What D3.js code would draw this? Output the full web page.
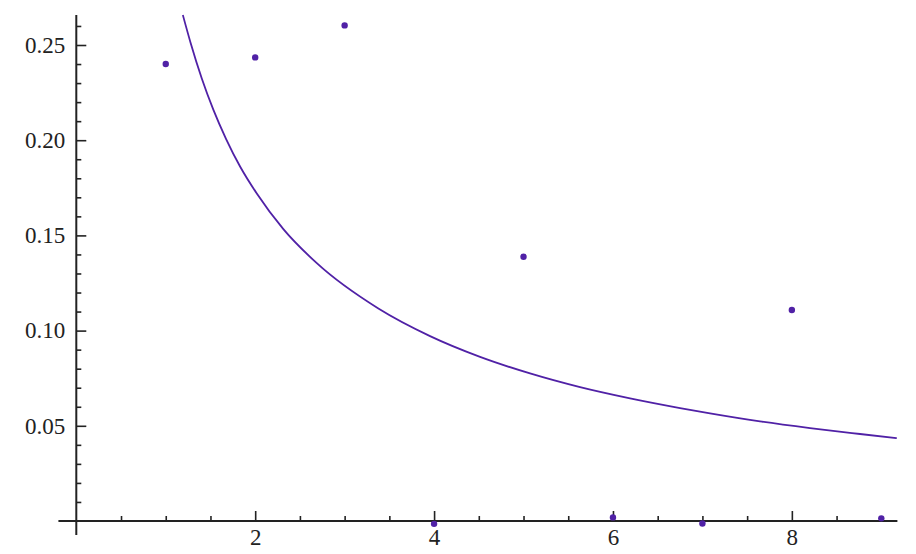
<!DOCTYPE html>
<html>
<head>
<meta charset="utf-8">
<script src="https://cdn.jsdelivr.net/npm/d3@7"></script>
<style>
  body { margin: 0; background: #fff; }
  svg { display: block; }
  .tick text { font-family: "Liberation Serif", "Times New Roman", serif; font-size: 23px; fill: #222; }
  .tick line { stroke: #222; stroke-width: 1.6; }
</style>
</head>
<body>
<svg id="chart" width="916" height="554"></svg>
<script>
// observed points
const pointX = [1, 2, 3, 4, 5, 6, 7, 8, 9];
const pointY = [0.240, 0.2435, 0.2603, -0.0015, 0.1388, 0.0019, -0.0013, 0.1108, 0.0014];

// fitted curve
const fitX = [1.191, 1.280, 1.403, 1.533, 1.675, 1.831, 2.018, 2.315, 2.689, 3.377, 3.955,
              4.514, 5.073, 5.632, 6.191, 6.750, 7.085, 7.644, 8.203, 8.762, 9.173];
const fitY = [0.2658, 0.2508, 0.2324, 0.2159, 0.2006, 0.1862, 0.1720, 0.1533, 0.1354, 0.1116, 0.0971,
              0.0862, 0.0775, 0.0703, 0.0644, 0.0593, 0.0565, 0.0523, 0.0488, 0.0457, 0.0435];

// axis ticks
const xTicks = [2, 4, 6, 8];
const yTicks = [0.05, 0.10, 0.15, 0.20, 0.25];
const xMinorStep = 0.5, xMinorMax = 9;
const yMinorStep = 0.01, yMinorMax = 0.26;

const svg = d3.select("#chart");
const color = "#5021a6";

let x = d3.scaleLinear().domain([0, 9]).range([76.3, 881.3]);
let y = d3.scaleLinear().domain([0, 0.25]).range([521, 45]);

const x0 = x(0), y0 = y(0);

// minor ticks
const xMinor = d3.range(xMinorStep, xMinorMax + 0.001, xMinorStep).filter(v => !xTicks.includes(v));
const yMinor = d3.range(1, Math.round(yMinorMax / yMinorStep) + 1)
    .map(i => +(i * yMinorStep).toFixed(2))
    .filter(v => !yTicks.some(t => Math.abs(t - v) < 1e-9));

svg.append("g")
    .attr("transform", "translate(0," + y0 + ")")
    .call(d3.axisBottom(x).tickValues(xMinor).tickSize(-5).tickFormat(""))
    .call(g => g.select(".domain").remove());

svg.append("g")
    .attr("transform", "translate(" + x0 + ",0)")
    .call(d3.axisLeft(y).tickValues(yMinor).tickSize(-5).tickFormat(""))
    .call(g => g.select(".domain").remove());

// major ticks + labels
svg.append("g")
    .attr("class", "axis axis--x")
    .attr("transform", "translate(0," + y0 + ")")
    .call(d3.axisBottom(x).tickValues(xTicks).tickSize(-10).tickPadding(8).tickFormat(d3.format("d")))
    .call(g => g.select(".domain").remove());

svg.append("g")
    .attr("class", "axis axis--y")
    .attr("transform", "translate(" + x0 + ",0)")
    .call(d3.axisLeft(y).tickValues(yTicks).tickSize(-10).tickPadding(11).tickFormat(d3.format(".2f")))
    .call(g => g.select(".domain").remove());

// axis lines
svg.append("line")
    .attr("x1", x(-0.2)).attr("x2", x(9.18))
    .attr("y1", y0).attr("y2", y0)
    .attr("stroke", "#222").attr("stroke-width", 2);

svg.append("line")
    .attr("x1", x0).attr("x2", x0)
    .attr("y1", y(0.2657)).attr("y2", y(-0.0073))
    .attr("stroke", "#222").attr("stroke-width", 2);

// fitted curve
const fit = fitX.map((v, i) => [v, fitY[i]]);
const line = d3.line()
    .x(d => x(d[0]))
    .y(d => y(d[1]))
    .curve(d3.curveMonotoneX);

svg.append("path")
    .datum(fit)
    .attr("fill", "none")
    .attr("stroke", color)
    .attr("stroke-width", 1.8)
    .attr("stroke-linejoin", "round")
    .attr("d", line);

// points
svg.append("g")
    .selectAll("circle")
    .data(pointX.map((v, i) => [v, pointY[i]]))
    .join("circle")
    .attr("cx", d => x(d[0]))
    .attr("cy", d => y(d[1]))
    .attr("r", 3.2)
    .attr("fill", color);
</script>
</body>
</html>
